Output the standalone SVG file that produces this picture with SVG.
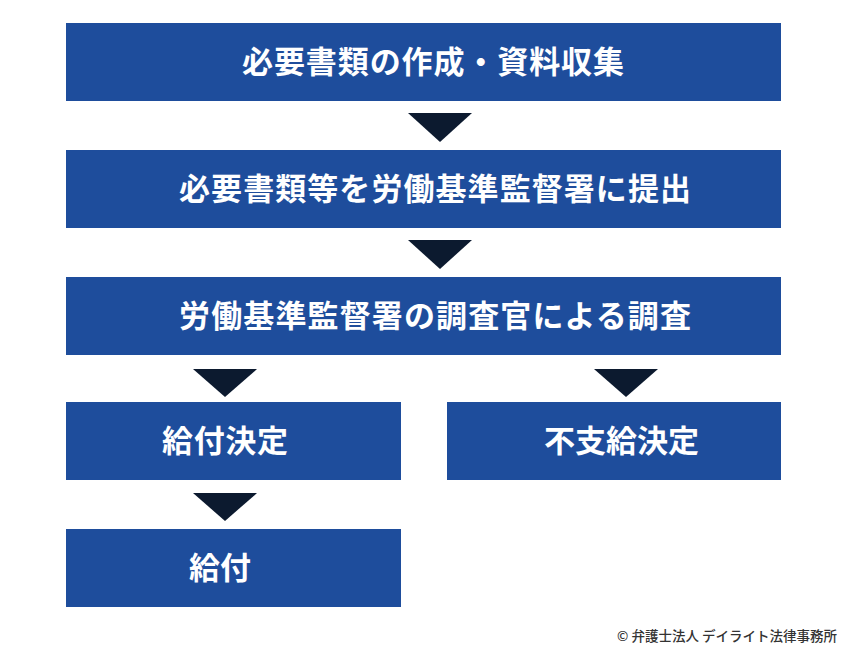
<svg xmlns="http://www.w3.org/2000/svg" width="850" height="650" viewBox="0 0 850 650">
<style>
.box{fill:#1e4d9c}
.lbl{fill:#ffffff;font-family:"Noto Sans CJK JP","Noto Sans",sans-serif;font-weight:700;font-size:31px}
.tri{fill:#0c1a2f}
.copy{fill:#333333;font-family:"Noto Sans CJK JP","Noto Sans",sans-serif;font-size:13.5px;font-weight:500}
</style>
<rect width="850" height="650" fill="#ffffff"/>
<g id="connectors">
<polygon class="tri" points="408,113 472,113 440,142"/>
<polygon class="tri" points="408,240 472,240 440,269"/>
<polygon class="tri" points="193,369 257,369 225,397"/>
<polygon class="tri" points="594,369 658,369 626,397"/>
<polygon class="tri" points="193,493 257,493 225,521"/>
</g>
<g id="n1"><rect class="box" x="66" y="23" width="715" height="78"/><text class="lbl" x="242" y="73" textLength="382" lengthAdjust="spacing">必要書類の作成・資料収集</text></g>
<g id="n2"><rect class="box" x="66" y="150" width="715" height="78"/><text class="lbl" x="179" y="200" textLength="512" lengthAdjust="spacing">必要書類等を労働基準監督署に提出</text></g>
<g id="n3"><rect class="box" x="66" y="277" width="715" height="78"/><text class="lbl" x="179" y="327" textLength="512" lengthAdjust="spacing">労働基準監督署の調査官による調査</text></g>
<g id="n4"><rect class="box" x="66" y="402" width="335" height="78"/><text class="lbl" x="162" y="452" textLength="126" lengthAdjust="spacing">給付決定</text></g>
<g id="n5"><rect class="box" x="447" y="402" width="334" height="78"/><text class="lbl" x="544" y="452" textLength="155" lengthAdjust="spacing">不支給決定</text></g>
<g id="n6"><rect class="box" x="66" y="529" width="335" height="78"/><text class="lbl" x="189" y="579" textLength="62" lengthAdjust="spacing">給付</text></g>
<text class="copy" x="617" y="641" textLength="220" lengthAdjust="spacingAndGlyphs">© 弁護士法人 デイライト法律事務所</text>
</svg>
